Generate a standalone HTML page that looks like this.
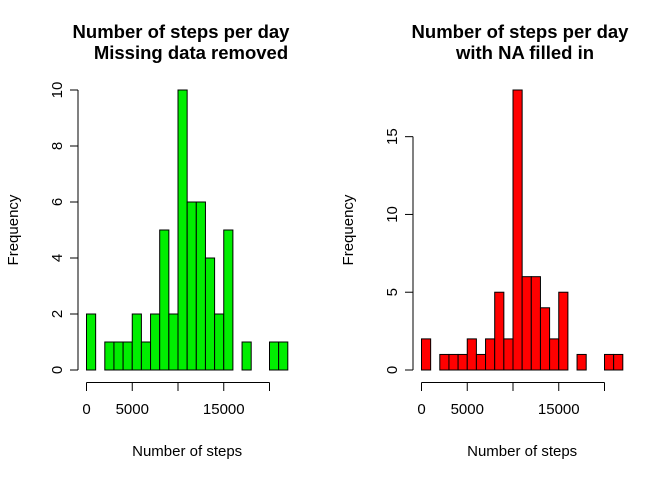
<!DOCTYPE html>
<html><head><meta charset="utf-8"><style>
body{margin:0;background:#fff}
svg text{font-family:"Liberation Sans",Arial,sans-serif;fill:#000}
</style></head><body>
<svg width="672" height="480" id="s"></svg>
<script>
const binStarts=[0,1000,2000,3000,4000,5000,6000,7000,8000,9000,10000,11000,12000,13000,14000,15000,16000,17000,18000,19000,20000,21000];
const countsRemoved=[2,0,1,1,1,2,1,2,5,2,10,6,6,4,2,5,0,1,0,0,1,1];
const countsFilled=[2,0,1,1,1,2,1,2,5,2,18,6,6,4,2,5,0,1,0,0,1,1];
const xTicks=[0,5000,10000,15000,20000];
const xTickLabels=["0","5000","","15000",""];
const yTicksLeft=[0,2,4,6,8,10];
const yTicksRight=[0,5,10,15];
const NS="http://www.w3.org/2000/svg";
const svg=document.getElementById('s');
function mk(t,a,p){const e=document.createElementNS(NS,t);for(const k in a)e.setAttribute(k,a[k]);(p||svg).appendChild(e);return e;}
function panel(name,x0,ymax,counts,yticks,color,t1,t2,c1,c2){
  const g=mk('g',{});
  
  
  const sx=v=>x0+v*0.00915, base=370, top=90;
  const sy=v=>base-(base-top)*v/ymax;
  const tt=mk('text',{x:c1,y:38,'text-anchor':'middle','font-size':'18.5','font-weight':'bold'},g);
  
  tt.textContent=t1;
  const tt2=mk('text',{x:c2,y:59,'text-anchor':'middle','font-size':'18.5','font-weight':'bold'},g);
  
  tt2.textContent=t2;
  binStarts.forEach((b,i)=>{if(!counts[i])return;
    const r=mk('rect',{x:sx(b),y:sy(counts[i]),width:sx(b+1000)-sx(b),height:base-sy(counts[i]),fill:color,stroke:'#000','stroke-width':1},g);
    });
  const ax=x0-8.5;
  const ya=mk('g',{},g);
  mk('line',{x1:ax,x2:ax,y1:sy(yticks[0]),y2:sy(yticks[yticks.length-1]),stroke:'#000'},ya);
  yticks.forEach(v=>{mk('line',{x1:ax,x2:ax-8,y1:sy(v),y2:sy(v),stroke:'#000'},ya);
    const t=mk('text',{x:0,y:0,'text-anchor':'middle','font-size':'15',transform:`translate(${ax-16},${sy(v)}) rotate(-90)`},ya);
    t.textContent=v;});
  const yt=mk('text',{x:0,y:0,'text-anchor':'middle','font-size':'15',transform:`translate(${ax-60},230) rotate(-90)`},g);
  yt.textContent='Frequency';
  const xa=mk('g',{},g);
  mk('line',{x1:sx(xTicks[0]),x2:sx(xTicks[xTicks.length-1]),y1:382.5,y2:382.5,stroke:'#000'},xa);
  xTicks.forEach((v,i)=>{mk('line',{x1:sx(v),x2:sx(v),y1:382.5,y2:391,stroke:'#000'},xa);
    const t=mk('text',{x:sx(v),y:414,'text-anchor':'middle','font-size':'15'},xa);
    t.textContent=xTickLabels[i];});
  const xt=mk('text',{x:sx(11000),y:456,'text-anchor':'middle','font-size':'15'},g);
  xt.textContent='Number of steps';
}
panel('histogram-missing-removed',86.5,10,countsRemoved,yTicksLeft,'#00ee00','Number of steps per day','Missing data removed',181,191);
panel('histogram-na-filled',421.5,18,countsFilled,yTicksRight,'#ff0000','Number of steps per day','with NA filled in',520,525);
</script>
</body></html>
